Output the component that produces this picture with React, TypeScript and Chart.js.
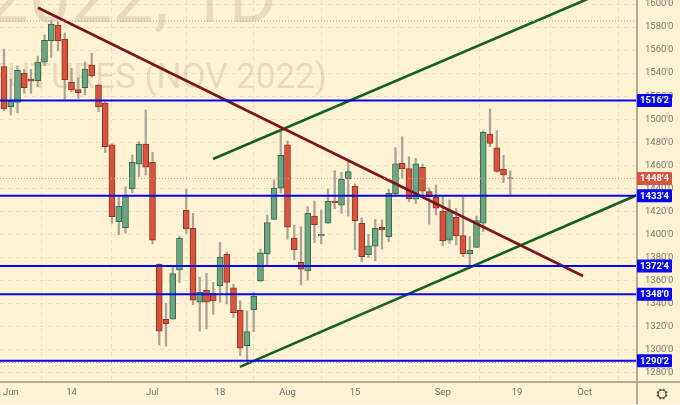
import React, { useEffect, useRef } from "react";
import { Chart, registerables } from "chart.js";

Chart.register(...registerables);

const highs = [1560.9,1534.9,1546.4,1543.3,1543.3,1554.8,1573.1,1585.5,1584.6,1574.8,1544.2,1536,1549.6,1557.2,1530.5,1515.2,1478.7,1432.7,1441.3,1468.9,1480.4,1508,1471.2,1374.2,1340,1371.9,1398.5,1439.3,1418.2,1362.7,1366.1,1358.3,1393,1384.6,1356.6,1342.1,1333.4,1349.3,1387.2,1416.8,1447.2,1490,1481,1408.1,1406.6,1424,1428.9,1421.1,1439.3,1455.2,1453.8,1464.5,1443.7,1414.2,1400,1413,1412.4,1439.1,1475.2,1484.8,1467.4,1466,1461.1,1440.2,1442.8,1432.7,1429.8,1422.6,1432.1,1397.9,1415.9,1490,1508.8,1490,1468.6,1455];
const lows = [1507.3,1503.6,1505.6,1522.5,1522.5,1528.2,1546.4,1553.7,1559.4,1517.2,1523.8,1518.1,1521,1536.3,1506.5,1470.9,1409.6,1399.7,1400.9,1436.1,1450,1451.5,1391.6,1303.9,1303,1326.2,1358,1400.9,1338.9,1315.8,1317.8,1330.5,1341,1339.5,1327.6,1294.6,1288,1315.4,1359,1371.9,1413,1436.1,1395.7,1377.7,1356,1360.3,1392.7,1391.6,1409.6,1422.2,1418.2,1415.9,1386.4,1376.2,1379.7,1376.8,1387,1393.6,1432.7,1448.6,1428.3,1426.9,1432.7,1408.9,1416.8,1389.8,1392.2,1390.7,1380.6,1371.9,1388.7,1402.3,1476.1,1453.7,1444.8,1434];
const opens = [1545.6,1510.8,1514.6,1540.1,1534.9,1533.4,1549.4,1568.1,1581.8,1569.3,1532.3,1525.6,1527.3,1547,1529.7,1514,1477.8,1411,1405.7,1439.3,1460.8,1478.4,1462.5,1374,1326.2,1326.2,1369,1420.9,1405.2,1341,1351.4,1348.4,1355.4,1382.6,1353.6,1334,1303.3,1334.5,1359.5,1382.9,1413,1440,1477.8,1396.5,1375.7,1368.1,1415.9,1398.5,1409.6,1428.9,1425.2,1448.3,1441.7,1409.6,1382.3,1389.6,1406.1,1397.9,1435.3,1461.7,1457,1430.4,1458.2,1437,1432.1,1420,1395,1414.8,1398.8,1383.2,1388.7,1409.6,1486.9,1475.2,1456.5,1449];
const closes = [1509.1,1515.8,1542.4,1527.3,1533.1,1549.6,1568.5,1582.6,1568.1,1534,1525.3,1523,1543.6,1537.5,1510.6,1476.1,1415.3,1424.3,1432.7,1462.5,1478.4,1458.2,1395,1315.8,1322.4,1365.8,1396.5,1404.9,1342.7,1349.6,1341,1342.1,1380.3,1358.3,1331.9,1301,1315.4,1346.4,1383.8,1410.1,1440.2,1468.6,1406.1,1386.4,1369.6,1418.2,1408.3,1400,1428.7,1427.2,1448,1454.4,1411.8,1380.6,1389.9,1405.2,1403.7,1435.6,1461.1,1456.7,1430.9,1461.1,1437.4,1432.7,1422.6,1394.5,1420.5,1398.5,1383.2,1386.1,1411.8,1488.6,1479,1454.7,1451.5,1448.5];

const tickIndices = [1, 10, 22, 32, 42, 52, 65, 76, 86];
const tickLabels = ["Jun", "14", "Jul", "18", "Aug", "15", "Sep", "19", "Oct"];
const levels = [1516.25, 1433.5, 1372.5, 1348, 1290.25];
const lastPrice = 1448.5;
const dottedLevels = [1585.2, 1288.7];

const maroonX = [5.04, 85.78];
const maroonY = [1596.8, 1363.8];
const greenUpperX = [30.96, 86.8];
const greenUpperY = [1465.4, 1605.2];
const greenLowerX = [34.96, 93.78];
const greenLowerY = [1284.8, 1434.1];

const X_MIN = -0.593;
const X_MAX = 93.78;
const Y_MIN = 1271.7;
const Y_MAX = 1603.5;

const BG = "#FFF3D3";
const UP = "#6BA583";
const DOWN = "#D9533E";
const UP_BORDER = "#33694C";
const DOWN_BORDER = "#8E3526";
const BLUE = "#0606EE";
const FONT = "Roboto";

const fmt = (v: number) => {
  const whole = Math.floor(v);
  return `${whole}'${Math.round((v - whole) * 8)}`;
};

const segment = (xs: number[], ys: number[]) => xs.map((x, i) => ({ x, y: ys[i] }));

const decor = {
  id: "decor",
  beforeDraw(chart: any) {
    const { ctx, width, height } = chart;
    ctx.save();
    ctx.fillStyle = BG;
    ctx.fillRect(0, 0, width, height);
    ctx.fillStyle = "#FFFAEE";
    ctx.fillRect(0, 404, width, 1);
    ctx.restore();
  },
  beforeDatasetsDraw(chart: any) {
    const { ctx, chartArea: a } = chart;
    ctx.save();
    ctx.beginPath();
    ctx.rect(a.left, a.top, a.right - a.left, a.bottom - a.top);
    ctx.clip();
    ctx.fillStyle = "rgba(110,100,70,0.17)";
    ctx.textAlign = "right";
    ctx.textBaseline = "alphabetic";
    ctx.font = `74px ${FONT}`;
    ctx.fillText("ZSX2022, 1D", 277, 22);
    ctx.font = `35px ${FONT}`;
    ctx.fillText("SOYBEAN FUTURES (NOV 2022)", 327, 88);
    ctx.restore();
  },
  afterDraw(chart: any) {
    const { ctx, chartArea: a, width, height, scales } = chart;
    ctx.save();
    ctx.strokeStyle = "#B3AC94";
    ctx.lineWidth = 2;
    ctx.beginPath();
    ctx.moveTo(a.right, 0);
    ctx.lineTo(a.right, height - 1);
    ctx.moveTo(0, a.bottom);
    ctx.lineTo(width, a.bottom);
    ctx.stroke();

    const tag = (value: number, color: string) => {
      const y = scales.y.getPixelForValue(value);
      ctx.fillStyle = color;
      ctx.beginPath();
      ctx.roundRect(a.right, y - 6.5, 35, 13, 1);
      ctx.fill();
      ctx.fillStyle = "#FFFFFF";
      ctx.font = `700 9.5px ${FONT}`;
      ctx.textAlign = "center";
      ctx.textBaseline = "middle";
      ctx.fillText(fmt(value), a.right + 17.5, y + 0.5);
    };
    tag(lastPrice, DOWN);
    levels.forEach((v) => tag(v, BLUE));

    const cx = 662;
    const cy = 394;
    ctx.strokeStyle = "#3A3A38";
    ctx.lineWidth = 1.2;
    ctx.beginPath();
    ctx.arc(cx, cy, 4, 0, Math.PI * 2);
    ctx.stroke();
    ctx.beginPath();
    for (let k = 0; k < 8; k++) {
      const t = (k * Math.PI) / 4 + Math.PI / 8;
      ctx.moveTo(cx + Math.cos(t) * 4, cy + Math.sin(t) * 4);
      ctx.lineTo(cx + Math.cos(t) * 5.6, cy + Math.sin(t) * 5.6);
    }
    ctx.stroke();
    ctx.restore();
  },
};

const lineSet = (data: any[], color: string, borderWidth: number, borderDash: number[] = []) => ({
  type: "line",
  data,
  borderColor: color,
  backgroundColor: color,
  borderWidth,
  borderDash,
  pointRadius: 0,
  fill: false,
  tension: 0,
  order: 1,
});

export default function App() {
  const ref = useRef<HTMLCanvasElement | null>(null);

  useEffect(() => {
    if (!ref.current) return;
    const candleColor = (i: number, up: string, down: string) => (closes[i] >= opens[i] ? up : down);
    const chart = new Chart(ref.current, {
      type: "bar",
      plugins: [decor],
      data: {
        datasets: [
          {
            type: "bar",
            data: highs.map((h, i) => ({ x: i, y: [lows[i], h] })),
            backgroundColor: "#A9A596",
            barThickness: 1.6,
            grouped: false,
            order: 3,
          },
          {
            type: "bar",
            data: opens.map((o, i) => ({ x: i, y: [o, closes[i]] })),
            backgroundColor: opens.map((_, i) => candleColor(i, UP, DOWN)),
            borderColor: opens.map((_, i) => candleColor(i, UP_BORDER, DOWN_BORDER)),
            borderWidth: 1,
            borderSkipped: false,
            barThickness: 6,
            grouped: false,
            order: 2,
          },
          ...dottedLevels.map((v) => lineSet(segment([X_MIN, X_MAX], [v, v]), "#A8A38F", 1, [1, 2])),
          lineSet(segment([X_MIN, X_MAX], [lastPrice, lastPrice]), "#EE9A7C", 1, [1, 2]),
          ...levels.map((v) => lineSet(segment([X_MIN, X_MAX], [v, v]), BLUE, 2)),
          lineSet(segment(maroonX, maroonY), "#7C1419", 2.6),
          lineSet(segment(greenUpperX, greenUpperY), "#14601E", 2.6),
          lineSet(segment(greenLowerX, greenLowerY), "#14601E", 2.6),
        ] as any,
      },
      options: {
        responsive: false,
        animation: false,
        layout: { padding: 0 },
        plugins: { legend: { display: false }, tooltip: { enabled: false }, title: { display: false } },
        scales: {
          x: {
            type: "linear",
            min: X_MIN,
            max: X_MAX,
            offset: false,
            afterBuildTicks: (s: any) => {
              s.ticks = tickIndices.map((value) => ({ value }));
            },
            afterFit: (s: any) => {
              s.height = 23;
              s.paddingLeft = s.paddingRight = s.paddingTop = s.paddingBottom = 0;
            },
            ticks: {
              autoSkip: false,
              maxRotation: 0,
              padding: 5,
              color: "#6E6E6A",
              font: { family: FONT, size: 9.5 },
              callback: (v: any) => tickLabels[tickIndices.indexOf(v)] ?? "",
            },
            grid: { color: "rgba(170,170,170,0.25)", drawTicks: false, lineWidth: 1 },
            border: { display: false, dash: [4, 4] },
          },
          y: {
            type: "linear",
            position: "right",
            min: Y_MIN,
            max: Y_MAX,
            afterFit: (s: any) => {
              s.width = 43;
              s.paddingLeft = s.paddingRight = s.paddingTop = s.paddingBottom = 0;
            },
            ticks: {
              stepSize: 20,
              includeBounds: false,
              autoSkip: false,
              padding: 8,
              color: "#77776F",
              font: { family: FONT, size: 9.5 },
              callback: (v: any) => fmt(Number(v)),
            },
            grid: { color: "rgba(170,170,170,0.25)", drawTicks: false, lineWidth: 1 },
            border: { display: false, dash: [4, 4] },
          },
        },
      } as any,
    });
    return () => chart.destroy();
  }, []);

  return (
    <div style={{ position: "fixed", left: 0, top: 0, width: 680, height: 405 }}>
      <canvas ref={ref} width={680} height={405} style={{ display: "block", width: 680, height: 405 }} />
    </div>
  );
}
